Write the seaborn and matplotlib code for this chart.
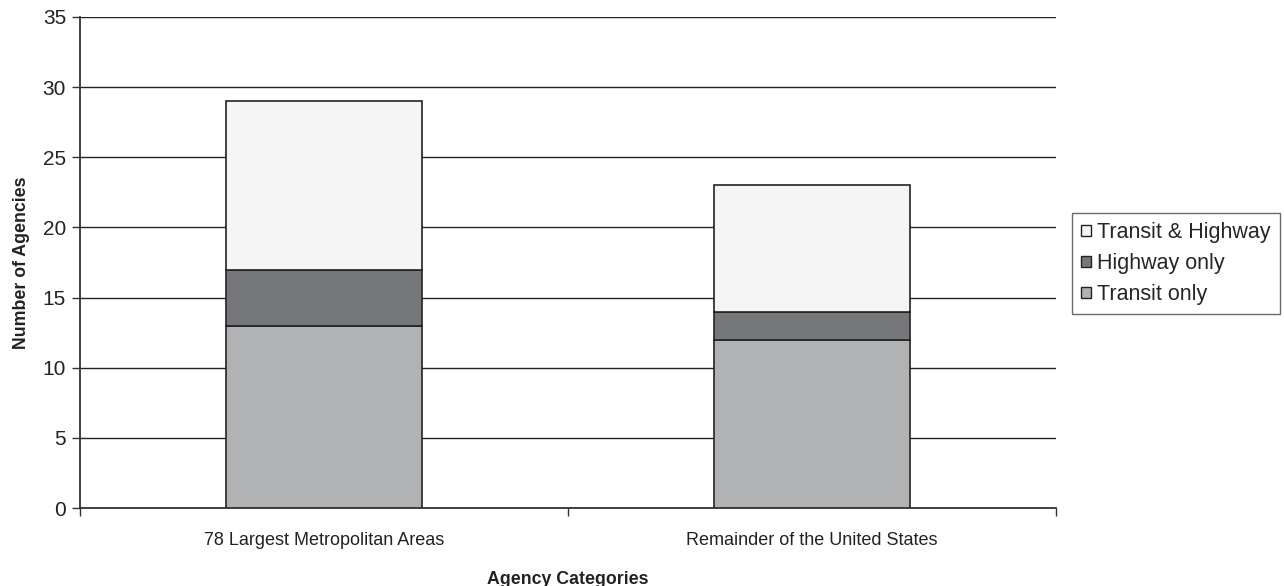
import matplotlib
matplotlib.use("Agg")
import matplotlib.pyplot as plt
from matplotlib.patches import Patch
import seaborn as sns
import pandas as pd
import numpy as np

categories = ["78 Largest Metropolitan Areas", "Remainder of the United States"]
transit_only = [13, 12]
highway_only = [4, 2]
transit_highway = [12, 9]

colors = {"Transit only": "#b1b2b4", "Highway only": "#76777b", "Transit & Highway": "#f5f5f5"}

sns.set_theme(style="white")
plt.rcParams["font.family"] = ["Liberation Sans", "DejaVu Sans"]

fig = plt.figure(figsize=(12.84, 5.86), dpi=100)
ax = fig.add_axes([0.0623, 0.1331, 0.7601, 0.8379])

df = pd.DataFrame({
    "category": categories,
    "Transit only": transit_only,
    "Highway only": highway_only,
    "Transit & Highway": transit_highway,
})

bottoms = np.zeros(len(categories))
for name in ["Transit only", "Highway only", "Transit & Highway"]:
    sns.barplot(data=df, x="category", y=name, ax=ax, color=colors[name],
                bottom=bottoms, width=0.4, edgecolor="#222222", linewidth=1.2,
                saturation=1, zorder=3)
    bottoms = bottoms + df[name].values

ax.set_ylim(0, 35)
ax.set_xlim(-0.5, 1.5)
ax.set_yticks(np.arange(0, 36, 5))
ax.yaxis.grid(True, color="#222222", linewidth=1.0)
ax.set_axisbelow(True)

for side in ["top", "right"]:
    ax.spines[side].set_visible(False)
for side in ["left", "bottom"]:
    ax.spines[side].set_color("#333333")
    ax.spines[side].set_linewidth(1.3)

ax.tick_params(axis="y", which="major", length=6, width=1, color="#333333",
               left=True, labelsize=15, labelcolor="#222222", pad=4)
ax.set_xticks([0, 1])
ax.set_xticklabels(categories)
ax.set_xticks([-0.5, 0.5, 1.5], minor=True)
ax.tick_params(axis="x", which="major", length=0, labelsize=13, labelcolor="#222222", pad=17)
ax.tick_params(axis="x", which="minor", length=6, width=1, color="#333333", bottom=True)

ax.set_xlabel("Agency Categories", fontsize=12.8, fontweight="bold", labelpad=16, color="#222222")
ax.set_ylabel("Number of Agencies", fontsize=12.8, fontweight="bold", labelpad=9, color="#222222")

handles = [Patch(facecolor=colors[n], edgecolor="#222222", linewidth=1.0, label=n)
           for n in ["Transit & Highway", "Highway only", "Transit only"]]
leg = fig.legend(handles=handles, loc="upper left", bbox_to_anchor=(1072 / 1284, 1 - 213 / 586),
                 frameon=True, fancybox=False, fontsize=15.5, handlelength=0.45,
                 handleheight=0.45, handletextpad=0.3, borderpad=0.42, labelspacing=0.47,
                 borderaxespad=0)
leg.get_frame().set_edgecolor("#444444")
leg.get_frame().set_linewidth(1.0)

fig.savefig("out.png", dpi=100, facecolor="white")
